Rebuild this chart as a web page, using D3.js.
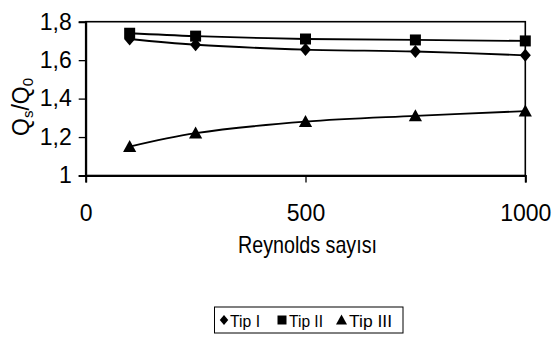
<!DOCTYPE html>
<html>
<head>
<meta charset="utf-8">
<script src="https://cdn.jsdelivr.net/npm/d3@7"></script>
<style>
  html, body { margin: 0; padding: 0; background: #fff; }
  svg { display: block; font-family: "Liberation Sans", Arial, sans-serif; }
</style>
</head>
<body>
<svg id="chart" width="555" height="345"></svg>
<script>
// Reynolds number values on the x axis
const reynolds = [100, 250, 500, 750, 1000];
// Qs/Q0 for each type
const tipI   = [1.71, 1.68, 1.655, 1.645, 1.625];
const tipII  = [1.74, 1.725, 1.71, 1.705, 1.70];
const tipIII = [1.15, 1.22, 1.28, 1.31, 1.335];
const seriesNames = ["Tip I", "Tip II", "Tip III"];
const xTicks = [0, 500, 1000];
const yTicks = [1, 1.2, 1.4, 1.6, 1.8];

const svg = d3.select("#chart");
const plot = { left: 85.7, right: 525.3, top: 21.7, bottom: 175.5 };

const x = d3.scaleLinear().domain([0, 1000]).range([plot.left, plot.right]);
const y = d3.scaleLinear().domain([1, 1.8]).range([plot.bottom, plot.top]);

const fmt = v => String(v).replace(".", ",");

// plot frame
svg.append("rect")
  .attr("x", plot.left).attr("y", plot.top)
  .attr("width", plot.right - plot.left).attr("height", plot.bottom - plot.top)
  .attr("fill", "none").attr("stroke", "#000").attr("stroke-width", 1.6);

// y axis
const yAxis = svg.append("g")
  .attr("transform", `translate(${plot.left},0)`)
  .call(d3.axisLeft(y).tickValues(yTicks).tickFormat(fmt).tickSize(7).tickPadding(7));
yAxis.select(".domain").attr("stroke-width", 2);
yAxis.selectAll(".tick line").attr("stroke-width", 1.3);
yAxis.selectAll("text").attr("font-size", 23).attr("fill", "#000")
  .attr("font-family", "Liberation Sans, Arial, sans-serif");

// x axis
const xAxis = svg.append("g")
  .attr("transform", `translate(0,${plot.bottom})`)
  .call(d3.axisBottom(x).tickValues(xTicks).tickFormat(d3.format("d")).tickSize(7).tickPadding(22));
xAxis.select(".domain").attr("stroke-width", 2);
xAxis.selectAll(".tick line").attr("stroke-width", 1.3);
xAxis.selectAll("text").attr("font-size", 23).attr("fill", "#000")
  .attr("font-family", "Liberation Sans, Arial, sans-serif");

// axis titles
svg.append("text")
  .attr("x", 307.5).attr("y", 253)
  .attr("text-anchor", "middle")
  .attr("font-size", 24)
  .attr("textLength", 139).attr("lengthAdjust", "spacingAndGlyphs")
  .text("Reynolds sayısı");

const yTitle = svg.append("text")
  .attr("transform", "translate(29,107) rotate(-90)")
  .attr("text-anchor", "middle")
  .attr("font-size", 23);
yTitle.append("tspan").text("Q");
yTitle.append("tspan").attr("font-size", 15).attr("dy", 4).text("s");
yTitle.append("tspan").attr("dy", -4).text("/Q");
yTitle.append("tspan").attr("font-size", 15).attr("dy", 4).text("0");

// marker shapes
const markerPath = {
  diamond: r => `M0,${-r}L${r * 0.85},0L0,${r}L${-r * 0.85},0Z`,
  square:  r => `M${-r},${-r}H${r}V${r}H${-r}Z`,
  triangle: r => `M0,${-r * 1.1}L${r * 1.1},${r * 0.9}L${-r * 1.1},${r * 0.9}Z`
};

const series = [
  { name: seriesNames[0], values: tipI,   marker: "diamond",  r: 6.5, lr: 5 },
  { name: seriesNames[1], values: tipII,  marker: "square",   r: 5.5, lr: 4.5 },
  { name: seriesNames[2], values: tipIII, marker: "triangle", r: 6,   lr: 5 }
];

const line = d3.line()
  .x(d => x(d[0])).y(d => y(d[1]))
  .curve(d3.curveCatmullRom.alpha(0.5));

series.forEach(s => {
  const pts = reynolds.map((r, i) => [r, s.values[i]]);
  svg.append("path")
    .attr("d", line(pts))
    .attr("fill", "none").attr("stroke", "#000").attr("stroke-width", 1.8);
  svg.append("g").selectAll("path").data(pts).join("path")
    .attr("transform", d => `translate(${x(d[0])},${y(d[1])})`)
    .attr("d", markerPath[s.marker](s.r))
    .attr("fill", "#000");
});

// legend
const legend = svg.append("g");
legend.append("rect")
  .attr("x", 214.5).attr("y", 307).attr("width", 188.5).attr("height", 26)
  .attr("fill", "#fff").attr("stroke", "#000").attr("stroke-width", 1);
const legendItems = [
  { sx: 224, tx: 230, w: 30 },
  { sx: 282, tx: 289, w: 34 },
  { sx: 341.5, tx: 349, w: 43 }
];
series.forEach((s, i) => {
  const it = legendItems[i];
  legend.append("path")
    .attr("transform", `translate(${it.sx},320)`)
    .attr("d", markerPath[s.marker](s.lr))
    .attr("fill", "#000");
  legend.append("text")
    .attr("x", it.tx).attr("y", 326.5)
    .attr("font-size", 17)
    .attr("textLength", it.w).attr("lengthAdjust", "spacingAndGlyphs")
    .text(s.name);
});
</script>
</body>
</html>
